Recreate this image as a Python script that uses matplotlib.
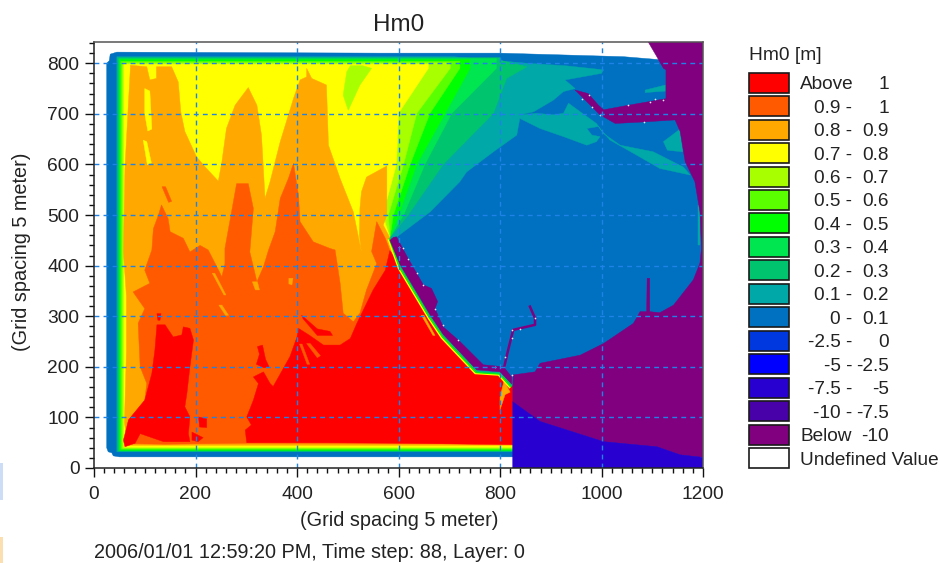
import numpy as np
import matplotlib
matplotlib.use("Agg")
import matplotlib.pyplot as plt
from matplotlib.patches import Rectangle

plt.rcParams['font.family'] = ['Liberation Sans', 'DejaVu Sans']

C_RED = '#FF0000'; C_OR = '#FF5A00'; C_ORANGE = '#FFA800'; C_YEL = '#FFFF00'
C_YG = '#A8FF00'; C_LIME = '#5AFF00'; C_GREEN = '#00FF00'; C_G3 = '#00E650'
C_G2 = '#00C46E'; C_TEAL = '#00A8A8'; C_BLUE = '#0070C0'; C_B1 = '#0038E0'
C_B2 = '#0000FF'; C_B3 = '#2800D0'; C_B4 = '#4800A8'; C_PUR = '#800080'

legend_colors = [C_RED, C_OR, C_ORANGE, C_YEL, C_YG, C_LIME, C_GREEN, C_G3, C_G2, C_TEAL,
                 C_BLUE, C_B1, C_B2, C_B3, C_B4, C_PUR, '#FFFFFF']
legend_low = ['Above', '0.9 -', '0.8 -', '0.7 -', '0.6 -', '0.5 -', '0.4 -', '0.3 -', '0.2 -', '0.1 -',
              '0 -', '-2.5 -', '-5 -', '-7.5 -', '-10 -', 'Below', 'Undefined Value']
legend_high = ['1', '1', '0.9', '0.8', '0.7', '0.6', '0.5', '0.4', '0.3', '0.2', '0.1', '0', '-2.5', '-5', '-7.5', '-10', '']

# water body outline (0 - 0.1)
blue_base = [(25,40),(28,32),(35,30),(38,24),(50,22),(825,22),(1200,22),(1200,800),(1043,813),(800,820),(563,820),
             (45,822),(32,818),(30,805),(25,800)]

# coast from breakwater tip to the south east corner
coast = [(583,455),(603,398),(662,299),(688,260),(754,190),(800,187),(823,161)]

# band contours: left x, bottom y, top y, then the fan contour from top to tip
band_colors = [C_G2, C_G3, C_GREEN, C_LIME, C_YG, C_YEL]
band_left = [47, 49, 51, 53, 56, 59]
band_bottom = [33, 34, 35, 37, 39, 41]
band_top = [811, 809, 807, 804, 801, 798]
band_fan = [
    [(800,806),(853,793),(813,770),(787,701),(688,600),(619,500)],
    [(793,790),(705,701),(652,600),(610,500)],
    [(741,790),(692,701),(636,600),(600,500)],
    [(721,790),(662,701),(623,600),(590,500)],
    [(702,790),(636,701),(610,600),(580,500)],
    [(659,790),(600,701),(596,600),(569,500)],
]
teal_band = [(45,32),(825,32),(823,161),(800,187),(754,190),(688,260),(662,299),(603,398),(583,455),(593,454),(662,506),
             (721,566),(734,585),(787,625),(833,658),
             (839,691),(879,671),(925,655),(971,638),(990,645),(997,655),(981,658),(971,671),(994,675),(997,671),
             (1017,648),(1063,622),(1115,592),(1175,579),(1161,595),(1102,625),(1037,638),(1004,661),(990,681),
             (954,707),(935,721),(925,701),(905,698),(872,701),(839,698),(866,704),(905,727),(925,744),(948,750),
             (928,767),(1000,780),(1004,787),(930,795),(853,800),(708,813),(45,813)]
teal_patches = [
    [(1122,645),(1155,670),(1160,625),(1130,628)],
    [(1086,747),(1126,757),(1126,745),(1086,742)],
    [(1190,520),(1194,520),(1194,440),(1190,440)],
]
yg_patch = [(498,783),(491,737),(501,707),(524,757),(547,790),(530,795),(505,795)]

orange_region = [(72,796),(104,793),(110,767),(123,770),(123,793),(153,793),(166,763),(171,704),(179,665),(202,615),
                 (219,595),(245,567),(252,605),(261,671),(278,717),(304,752),(321,717),(330,658),(337,533),(347,566),
                 (367,645),(393,730),(406,767),(419,773),(419,790),(429,770),(458,757),(462,638),(485,572),(511,506),
                 (527,427),(523,460),(524,513),(527,546),(537,575),(577,597),(577,500),(570,480),(583,455),(603,398),
                 (662,299),(688,260),(754,190),(800,187),(825,161),(825,45),(66,45),(60,90),(64,233),(64,339),(58,427),(61,592),(68,724)]
yellow_slits = [
    [(100,750),(110,745),(114,670),(106,666),(100,700)],
    [(97,648),(104,645),(113,603),(105,600)],
]

orange_red_region = [(68,95),(100,134),(104,167),(91,200),(87,286),(100,315),(77,348),(110,365),(100,391),(114,431),
                     (117,473),(127,500),(133,520),(146,493),(150,467),(176,454),(189,427),(209,440),(225,431),
                     (252,378),(258,404),(258,434),(271,506),(281,562),(304,562),(314,513),(307,427),(314,398),
                     (321,368),(334,398),(344,431),(357,467),(367,533),(383,572),(393,602),(403,539),(406,487),
                     (432,447),(465,434),(475,431),(485,365),(491,306),(511,289),(524,306),(537,352),(557,404),
                     (547,428),(557,487),(574,454),(583,430),(603,398),(662,299),(688,260),(754,190),(800,187),
                     (825,161),(825,48),(300,49),(140,47),(70,48),(62,60)]
orange_red_lens = [(134,556),(141,556),(153,527),(147,525)]
orange_slits = [
    [(233,385),(238,385),(260,342),(256,342)],
    [(246,322),(252,322),(265,302),(259,302)],
    [(312,368),(322,368),(326,352),(318,352)],
    [(384,375),(392,375),(390,362),(384,364)],
]

red_left = [(58,55),(68,95),(100,134),(114,187),(120,233),(124,283),(140,283),(156,259),(173,263),(176,279),(189,276),
            (196,253),(189,200),(183,147),(179,121),(189,101),(186,68),(189,52),(137,52),(91,68),(81,49),(61,42)]
red_main = [(301,50),(298,75),(310,85),(301,101),(314,134),(324,167),(314,180),(334,190),(347,167),(353,161),(386,220),
            (400,259),(403,276),(425,262),(452,243),(485,243),(505,256),(518,286),(550,352),(574,391),(583,430),
            (603,398),(662,299),(688,260),(754,190),(800,187),(825,161),(825,46),(600,49),(450,50)]
red_bits = [
    [(206,101),(222,97),(222,80),(208,81)],
    [(193,71),(215,60),(205,52),(193,55)],
    [(409,302),(440,275),(465,270),(470,262),(440,262),(412,295)],
    [(124,305),(132,305),(130,292),(126,292)],
    [(322,240),(332,243),(338,215),(345,200),(335,198),(320,205),(326,225)],
]
orange_red_streaks = [
    [(419,246),(426,246),(446,222),(440,218)],
    [(405,245),(410,245),(425,205),(420,205)],
]
coast_orange_bits = [
    [(645,302),(650,302),(672,262),(668,262)],
    [(800,115),(810,145),(820,150),(808,172),(800,140)],
]

purple_east = [(1092,842),(1109,813),(1122,790),(1127,787),(1127,730),(1053,717),(1004,708),(994,717),(974,740),(948,747),
               (997,698),(1027,681),(1083,684),(1145,688),(1155,665),(1165,605),(1184,566),(1194,506),(1197,434),(1194,405),
               (1181,372),(1142,322),(1115,307),(1095,309),(1095,375),(1090,375),(1089,309),(1076,309),(1063,286),(1004,246),
               (958,223),(879,207),(869,190),(826,184),(825,161),(825,131),(879,92),(1004,52),(1109,42),(1155,26),
               (1200,21),(1200,842)]
violet_south = [(825,131),(879,92),(1004,52),(1109,42),(1155,26),(1200,21),(1200,0),(825,0)]
purple_bank = [(583,450),(590,456),(596,457),(619,414),(649,362),(665,355),(677,329),(672,315),(688,279),(721,250),
               (767,204),(807,200),(823,180),(823,166),(800,190),(754,194),(688,264),(662,303),(603,402)]
pier = [(859,319),(869,296),(869,283),(826,273),(816,233),(807,194)]
white_dots = [(961,730),(976,737),(982,714),(997,697),(1053,717),(1096,724),(1106,730),(1122,727),(1083,683),(608,435),
              (600,437),(619,414),(636,385),(649,362),(672,315),(688,282),(718,253),(790,200),(810,220),(823,256),
              (839,275),(823,273),(869,296),(823,184)]

x_major = [0, 200, 400, 600, 800, 1000, 1200]
y_major = [0, 100, 200, 300, 400, 500, 600, 700, 800]
x_grid = [200, 400, 600, 800, 1000]
y_grid = [100, 200, 300, 400, 500, 600, 700, 800]

W, H = 940, 563
fig = plt.figure(figsize=(W/100, H/100), dpi=100, facecolor='white')
ax = fig.add_axes([94/W, (H-468)/H, 609/W, 426/H])
ax.set_xlim(0, 1200)
ax.set_ylim(0, 842)

def poly(pts, color, z=1):
    a = np.array(pts, float)
    ax.fill(a[:, 0], a[:, 1], color=color, lw=0.3, zorder=z)

poly(blue_base, C_BLUE)
poly(teal_band, C_TEAL)
for p in teal_patches:
    poly(p, C_TEAL)
for col, xl, yb, yt, fan in zip(band_colors, band_left, band_bottom, band_top, band_fan):
    outline = [(825, yb), (xl, yb), (xl, yt), (fan[0][0], yt)] + fan + coast
    poly(outline, col)
poly(yg_patch, C_YG)
poly(orange_region, C_ORANGE)
for p in yellow_slits:
    poly(p, C_YEL)
poly(orange_red_region, C_OR)
poly(orange_red_lens, C_OR)
for p in orange_slits:
    poly(p, C_ORANGE)
poly(red_left, C_RED)
poly(red_main, C_RED)
for p in red_bits:
    poly(p, C_RED)
for p in orange_red_streaks:
    poly(p, C_OR)
for p in coast_orange_bits:
    poly(p, C_ORANGE)

c = np.array(coast, float)
for off, col in [(-3, C_YEL), (-1, C_GREEN), (1, C_G2), (3, C_TEAL)]:
    ax.plot(c[:, 0]+off, c[:, 1]+off, color=col, lw=1.2, zorder=2, solid_capstyle='butt')

poly(purple_east, C_PUR, 3)
poly(violet_south, C_B3, 3)
poly(purple_bank, C_PUR, 3)
pr = np.array(pier, float)
ax.plot(pr[:, 0], pr[:, 1], color=C_PUR, lw=1.8, zorder=3)
d = np.array(white_dots, float)
ax.scatter(d[:, 0], d[:, 1], s=1.5, color='#E8E8F4', lw=0, zorder=4)

for v in x_grid:
    ax.axvline(v, color='#1E82E6', lw=1.0, dashes=(3.5, 3), zorder=5)
for v in y_grid:
    ax.axhline(v, color='#1E82E6', lw=1.0, dashes=(3.5, 3), zorder=5)

ax.set_xticks(x_major)
ax.set_yticks(y_major)
ax.set_xticks(np.arange(0, 1201, 20), minor=True)
ax.set_yticks(np.arange(0, 841, 20), minor=True)
ax.tick_params(which='major', length=6.5, width=1.0, labelsize=13.8, color='#111111', labelcolor='#222222')
ax.tick_params(axis='x', which='major', pad=6.5)
ax.tick_params(axis='y', which='major', pad=4)
ax.tick_params(which='minor', length=3.5, width=1.0, color='#111111')
for s in ax.spines.values():
    s.set_linewidth(1.1); s.set_color('#222222'); s.set_zorder(6)
ax.spines['top'].set_color('#555555')
ax.spines['right'].set_color('#555555')

ov = fig.add_axes([0, 0, 1, 1], facecolor='none')
ov.set_xlim(0, W); ov.set_ylim(H, 0); ov.axis('off')
FS = 14.3
ov.text(399, 25, 'Hm0', ha='center', va='center', fontsize=17.5, color='#222222')
ov.text(399, 521, '(Grid spacing 5 meter)', ha='center', va='center', fontsize=FS, color='#222222')
ov.text(22, 252, '(Grid spacing 5 meter)', ha='center', va='center', rotation=90, fontsize=FS, color='#222222')
ov.text(94, 552, '2006/01/01 12:59:20 PM, Time step: 88, Layer: 0', ha='left', va='center', fontsize=FS, color='#222222')
ov.text(749, 55, 'Hm0 [m]', ha='left', va='center', fontsize=13.8, color='#222222')

for i, (col, lo, hi) in enumerate(zip(legend_colors, legend_low, legend_high)):
    yc = 82.7 + i*23.46
    ov.add_patch(Rectangle((749, yc-10), 40, 20, facecolor=col, edgecolor='#1a1a1a', lw=1.2))
    if lo in ('Above', 'Below', 'Undefined Value'):
        ov.text(800, yc+2, lo, ha='left', va='center', fontsize=13.7, color='#222222')
    else:
        ov.text(852, yc+2, lo, ha='right', va='center', fontsize=13.7, color='#222222')
    if hi:
        ov.text(889, yc+2, hi, ha='right', va='center', fontsize=13.7, color='#222222')

ov.add_patch(Rectangle((0, 463), 3, 37, facecolor='#CCDDF5', edgecolor='none'))
ov.add_patch(Rectangle((0, 537), 3, 26, facecolor='#FBDFB0', edgecolor='none'))

fig.savefig('out.png', dpi=100, facecolor='white')
